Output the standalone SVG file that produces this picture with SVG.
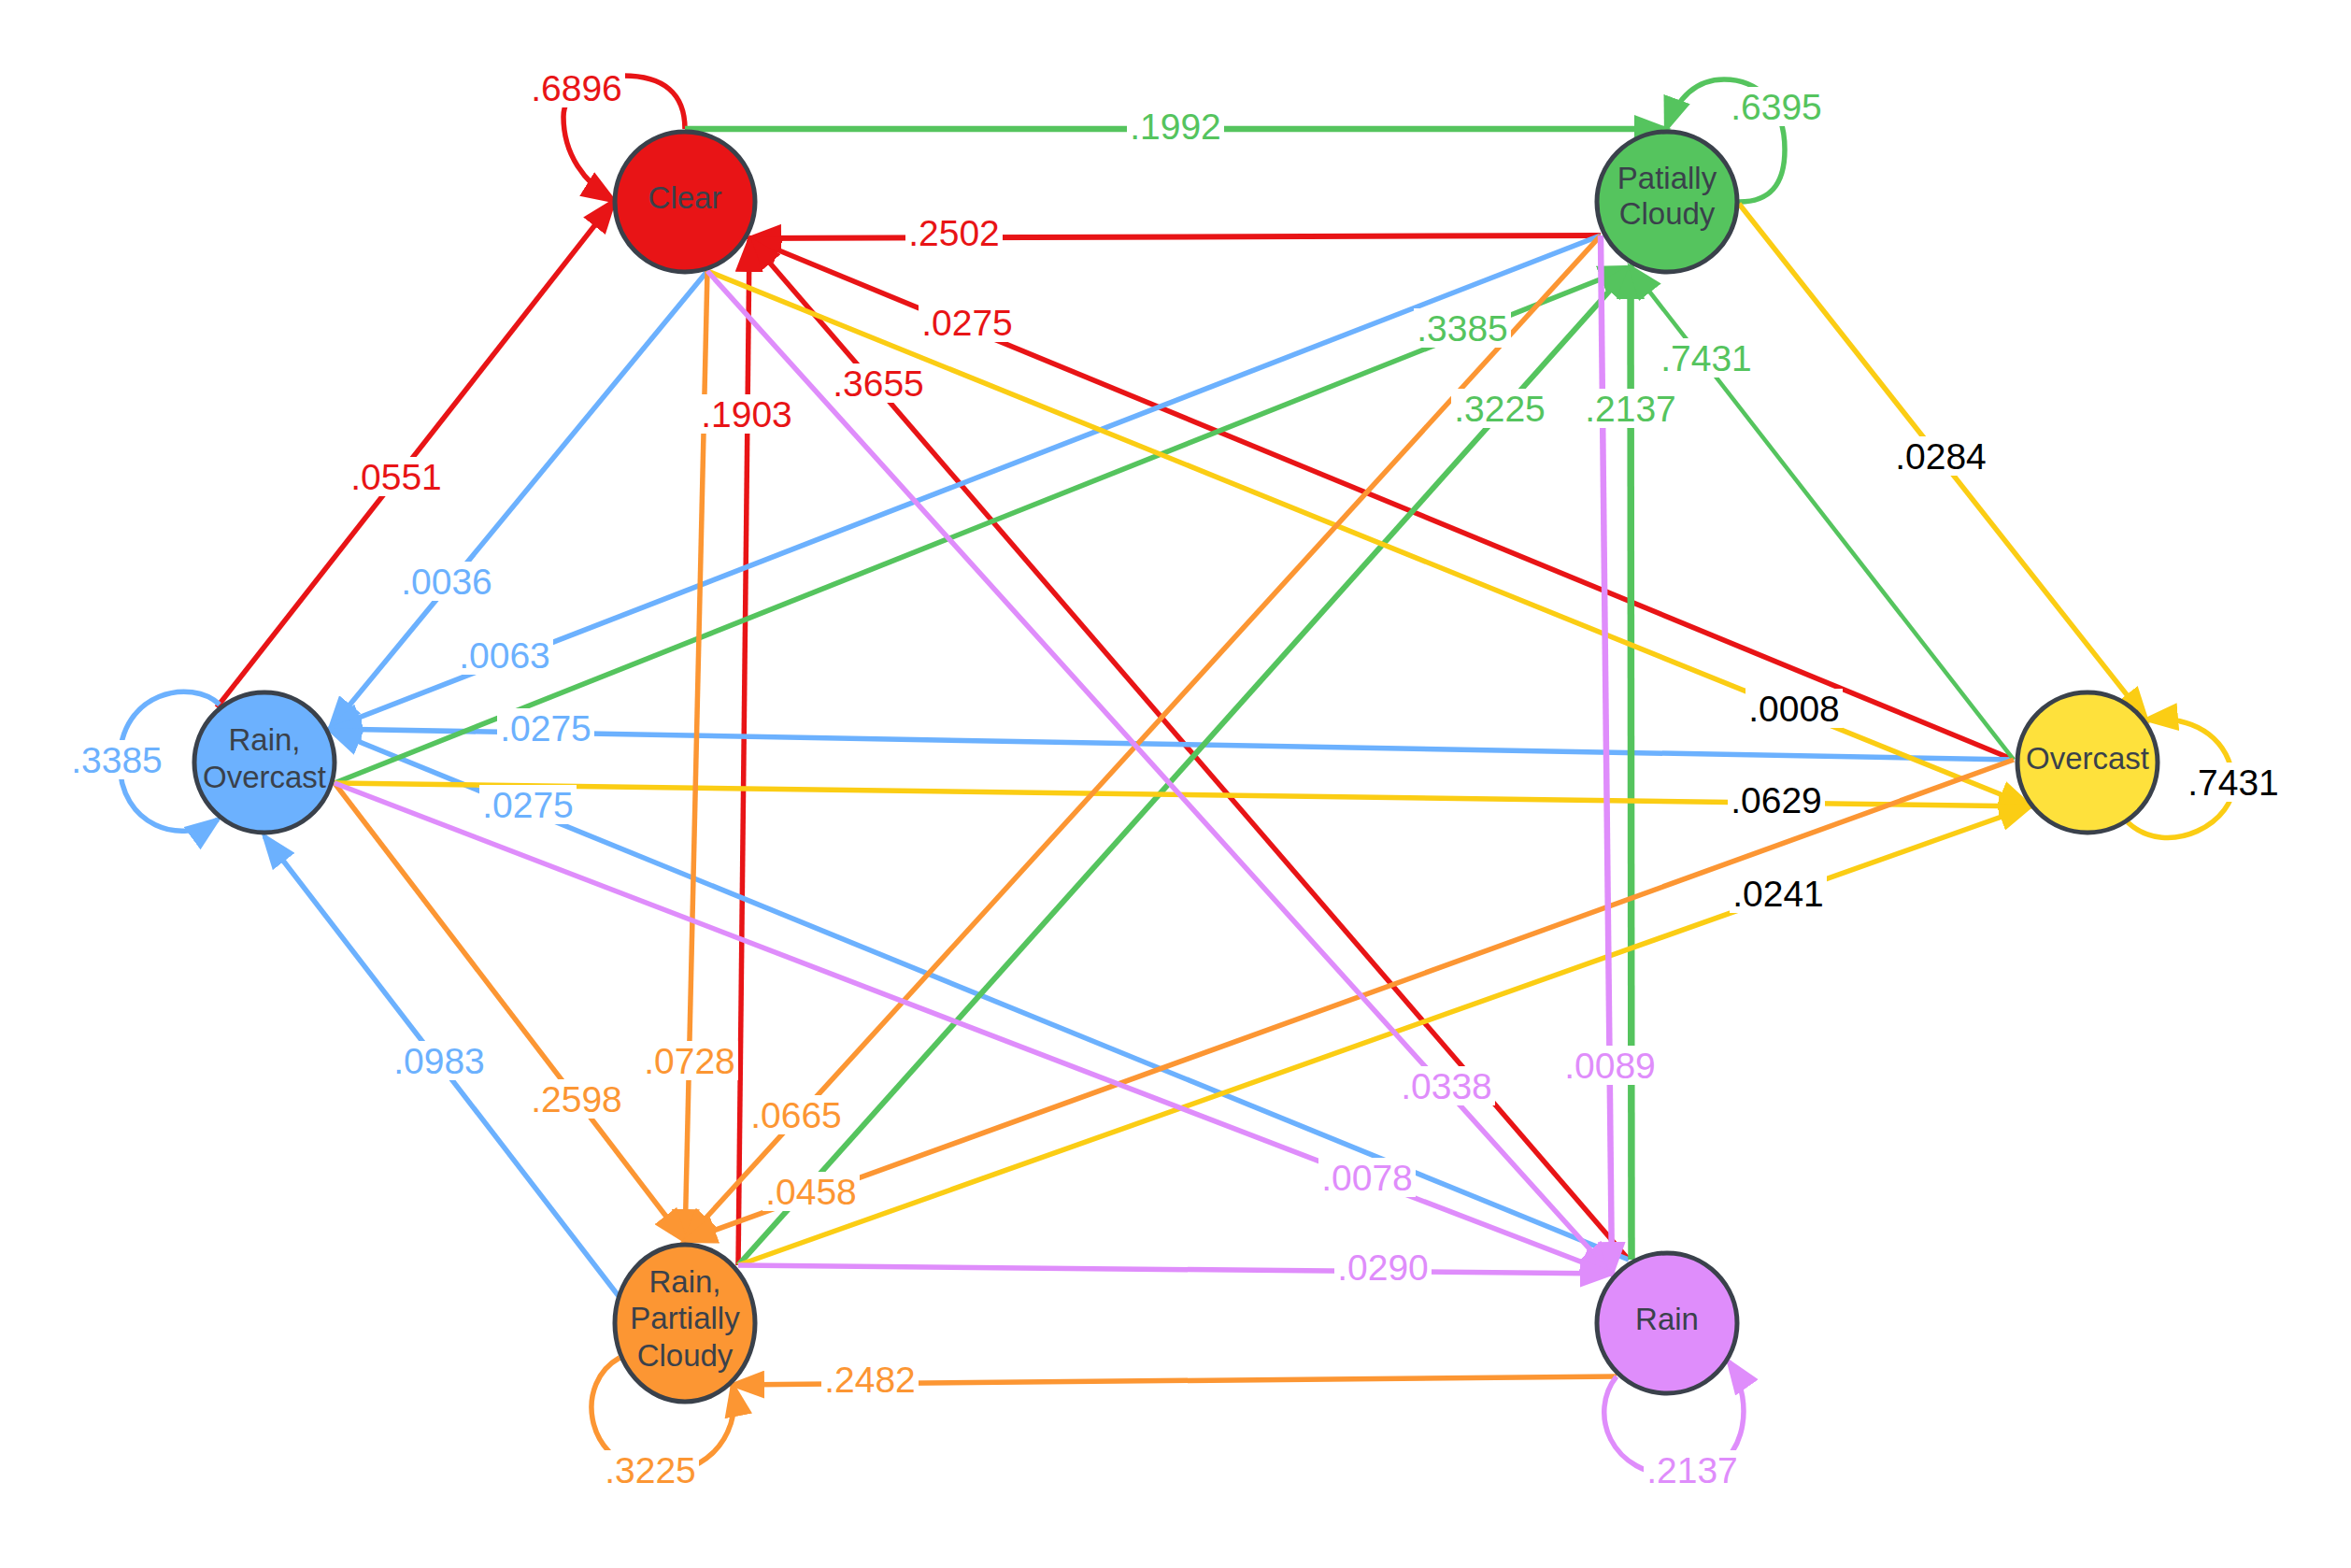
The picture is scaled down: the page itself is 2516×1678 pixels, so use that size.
<svg xmlns="http://www.w3.org/2000/svg" width="2516" height="1678" viewBox="0 0 2516 1678">
<style>
.e{fill:none;stroke-width:5.5}
.r{stroke:#e81416;marker-end:url(#ar-red)}
.g{stroke:#55c45e;marker-end:url(#ar-green)}
.b{stroke:#6cb1fe;marker-end:url(#ar-blue)}
.y{stroke:#fbcd14;marker-end:url(#ar-yellow)}
.o{stroke:#fc9633;marker-end:url(#ar-orange)}
.p{stroke:#df8dfb;marker-end:url(#ar-purple)}
.node{stroke:#3a414b;stroke-width:5}
.nt{font-family:"Liberation Sans",Arial,sans-serif;font-size:33px;fill:#3a414b;text-anchor:middle}
.lt{font-family:"Liberation Sans",Arial,sans-serif;font-size:39px;text-anchor:middle}
.bg{fill:#ffffff}
.cr{fill:#e81416}.cg{fill:#55c45e}.cb{fill:#6cb1fe}.ck{fill:#000000}.co{fill:#fc9633}.cp{fill:#df8dfb}
</style>
<defs>
<marker id="ar-red" viewBox="0 0 40 30" refX="34" refY="15" markerWidth="40" markerHeight="30" markerUnits="userSpaceOnUse" orient="auto"><path d="M0,0 L40,15 L0,30 Z" fill="#e81416"/></marker>
<marker id="ar-green" viewBox="0 0 40 30" refX="34" refY="15" markerWidth="40" markerHeight="30" markerUnits="userSpaceOnUse" orient="auto"><path d="M0,0 L40,15 L0,30 Z" fill="#55c45e"/></marker>
<marker id="ar-blue" viewBox="0 0 40 30" refX="34" refY="15" markerWidth="40" markerHeight="30" markerUnits="userSpaceOnUse" orient="auto"><path d="M0,0 L40,15 L0,30 Z" fill="#6cb1fe"/></marker>
<marker id="ar-yellow" viewBox="0 0 40 30" refX="34" refY="15" markerWidth="40" markerHeight="30" markerUnits="userSpaceOnUse" orient="auto"><path d="M0,0 L40,15 L0,30 Z" fill="#fbcd14"/></marker>
<marker id="ar-orange" viewBox="0 0 40 30" refX="34" refY="15" markerWidth="40" markerHeight="30" markerUnits="userSpaceOnUse" orient="auto"><path d="M0,0 L40,15 L0,30 Z" fill="#fc9633"/></marker>
<marker id="ar-purple" viewBox="0 0 40 30" refX="34" refY="15" markerWidth="40" markerHeight="30" markerUnits="userSpaceOnUse" orient="auto"><path d="M0,0 L40,15 L0,30 Z" fill="#df8dfb"/></marker>
</defs>
<rect width="2516" height="1678" fill="#ffffff"/>
<g id="connectors">
<path class="e r" d="M733,138 C733,100 710,81 667,81 C630,81 603,100 603,125 C603,165 625,195 657,215"/>
<path class="e g" style="stroke-width:6.5" d="M733,138 L1783,138"/>
<path class="e g" d="M1861,216 C1900,216 1910,190 1910,160 C1910,110 1880,85 1845,85 C1815,85 1795,105 1783,138"/>
<path class="e r" style="stroke-width:6" d="M1713,252 L802,255"/>
<path class="e r" d="M2155,813 L802,255"/>
<path class="e r" d="M1743,1348 L802,256"/>
<path class="e r" d="M790,1354 L802,257"/>
<path class="e r" d="M232,757 L657,215"/>
<path class="e b" d="M757,290 L353,780"/>
<path class="e b" d="M1713,252 L353,780"/>
<path class="e b" d="M2155,813 L353,780"/>
<path class="e b" d="M1743,1348 L353,781"/>
<path class="e b" d="M662,1387 L283,895"/>
<path class="e b" d="M235,754 C205,725 128,740 128,815 C128,885 195,905 233,877"/>
<path class="e g" d="M358,838 L1745,286"/>
<path class="e g" style="stroke-width:6" d="M790,1354 L1745,286"/>
<path class="e g" style="stroke-width:7.5" d="M1746,1348 L1745,286"/>
<path class="e g" style="stroke-width:4.5" d="M2155,813 L1745,286"/>
<path class="e y" d="M1861,218 L2297,770"/>
<path class="e y" d="M757,290 L2173,863"/>
<path class="e y" d="M358,838 L2173,863"/>
<path class="e y" d="M790,1354 L2173,863"/>
<path class="e y" d="M2277,880 C2320,920 2395,880 2390,835 C2386,795 2355,765 2297,770"/>
<path class="e o" d="M757,290 L733,1328"/>
<path class="e o" d="M358,838 L733,1328"/>
<path class="e o" d="M1713,252 L733,1328"/>
<path class="e o" d="M2155,813 L733,1328"/>
<path class="e o" d="M1730,1473 L784,1482"/>
<path class="e o" d="M663,1453 C615,1480 625,1560 690,1575 C750,1585 795,1540 784,1482"/>
<path class="e p" d="M757,290 L1725,1363"/>
<path class="e p" style="stroke-width:6.5" d="M1713,252 L1725,1363"/>
<path class="e p" d="M358,838 L1725,1363"/>
<path class="e p" d="M790,1354 L1725,1363"/>
<path class="e p" d="M1730,1473 C1700,1510 1720,1580 1800,1580 C1870,1580 1880,1500 1850,1457"/>
</g>
<g id="connector-labels">
<rect class="bg" x="565" y="73" width="104" height="42"/><text class="lt cr" x="617" y="108">.6896</text>
<rect class="bg" x="1206" y="114" width="104" height="42"/><text class="lt cg" x="1258" y="149">.1992</text>
<rect class="bg" x="1849" y="93" width="104" height="42"/><text class="lt cg" x="1901" y="128">.6395</text>
<rect class="bg" x="969" y="228" width="104" height="42"/><text class="lt cr" x="1021" y="263">.2502</text>
<rect class="bg" x="983" y="324" width="104" height="42"/><text class="lt cr" x="1035" y="359">.0275</text>
<rect class="bg" x="888" y="389" width="104" height="42"/><text class="lt cr" x="940" y="424">.3655</text>
<rect class="bg" x="747" y="422" width="104" height="42"/><text class="lt cr" x="799" y="457">.1903</text>
<rect class="bg" x="372" y="489" width="104" height="42"/><text class="lt cr" x="424" y="524">.0551</text>
<rect class="bg" x="426" y="601" width="104" height="42"/><text class="lt cb" x="478" y="636">.0036</text>
<rect class="bg" x="488" y="680" width="104" height="42"/><text class="lt cb" x="540" y="715">.0063</text>
<rect class="bg" x="532" y="758" width="104" height="42"/><text class="lt cb" x="584" y="793">.0275</text>
<rect class="bg" x="513" y="840" width="104" height="42"/><text class="lt cb" x="565" y="875">.0275</text>
<rect class="bg" x="418" y="1114" width="104" height="42"/><text class="lt cb" x="470" y="1149">.0983</text>
<rect class="bg" x="73" y="792" width="104" height="42"/><text class="lt cb" x="125" y="827">.3385</text>
<rect class="bg" x="1513" y="330" width="104" height="42"/><text class="lt cg" x="1565" y="365">.3385</text>
<rect class="bg" x="1553" y="416" width="104" height="42"/><text class="lt cg" x="1605" y="451">.3225</text>
<rect class="bg" x="1693" y="416" width="104" height="42"/><text class="lt cg" x="1745" y="451">.2137</text>
<rect class="bg" x="1774" y="362" width="104" height="42"/><text class="lt cg" x="1826" y="397">.7431</text>
<rect class="bg" x="2025" y="467" width="104" height="42"/><text class="lt ck" x="2077" y="502">.0284</text>
<rect class="bg" x="1868" y="737" width="104" height="42"/><text class="lt ck" x="1920" y="772">.0008</text>
<rect class="bg" x="1849" y="835" width="104" height="42"/><text class="lt ck" x="1901" y="870">.0629</text>
<rect class="bg" x="1851" y="935" width="104" height="42"/><text class="lt ck" x="1903" y="970">.0241</text>
<rect class="bg" x="2338" y="816" width="104" height="42"/><text class="lt ck" x="2390" y="851">.7431</text>
<rect class="bg" x="686" y="1114" width="104" height="42"/><text class="lt co" x="738" y="1149">.0728</text>
<rect class="bg" x="565" y="1155" width="104" height="42"/><text class="lt co" x="617" y="1190">.2598</text>
<rect class="bg" x="800" y="1172" width="104" height="42"/><text class="lt co" x="852" y="1207">.0665</text>
<rect class="bg" x="816" y="1254" width="104" height="42"/><text class="lt co" x="868" y="1289">.0458</text>
<rect class="bg" x="879" y="1455" width="104" height="42"/><text class="lt co" x="931" y="1490">.2482</text>
<rect class="bg" x="644" y="1552" width="104" height="42"/><text class="lt co" x="696" y="1587">.3225</text>
<rect class="bg" x="1496" y="1141" width="104" height="42"/><text class="lt cp" x="1548" y="1176">.0338</text>
<rect class="bg" x="1671" y="1119" width="104" height="42"/><text class="lt cp" x="1723" y="1154">.0089</text>
<rect class="bg" x="1411" y="1239" width="104" height="42"/><text class="lt cp" x="1463" y="1274">.0078</text>
<rect class="bg" x="1428" y="1335" width="104" height="42"/><text class="lt cp" x="1480" y="1370">.0290</text>
<rect class="bg" x="1759" y="1552" width="104" height="42"/><text class="lt cp" x="1811" y="1587">.2137</text>
</g>
<g id="node-clear"><circle class="node" cx="733" cy="216" r="75" fill="#e81416"/><text class="nt" x="733" y="223">Clear</text></g>
<g id="node-patially-cloudy"><circle class="node" cx="1784" cy="216" r="75" fill="#55c45e"/><text class="nt" x="1784" y="202">Patially</text><text class="nt" x="1784" y="240">Cloudy</text></g>
<g id="node-rain-overcast"><circle class="node" cx="283" cy="816" r="75" fill="#6cb1fe"/><text class="nt" x="283" y="803">Rain,</text><text class="nt" x="283" y="843">Overcast</text></g>
<g id="node-overcast"><circle class="node" cx="2234" cy="816" r="75" fill="#fee13c"/><text class="nt" x="2234" y="823">Overcast</text></g>
<g id="node-rain-partially-cloudy"><ellipse class="node" cx="733" cy="1416" rx="75" ry="84" fill="#fc9633"/><text class="nt" x="733" y="1383">Rain,</text><text class="nt" x="733" y="1422">Partially</text><text class="nt" x="733" y="1462">Cloudy</text></g>
<g id="node-rain"><circle class="node" cx="1784" cy="1416" r="75" fill="#df8dfb"/><text class="nt" x="1784" y="1423">Rain</text></g>
</svg>
